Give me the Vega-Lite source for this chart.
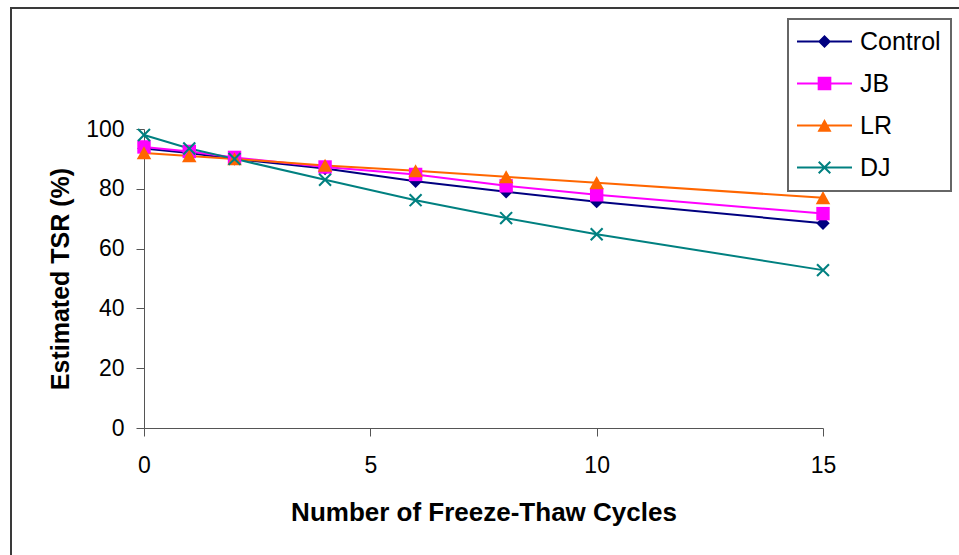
{
  "$schema": "https://vega.github.io/schema/vega-lite/v6.json",
  "width": 950,
  "height": 550,
  "autosize": {"type": "none"},
  "padding": {"left": 11, "top": 8, "right": -2, "bottom": -3},
  "background": "white",
  "config": {
    "view": {"stroke": "#3a3a3a", "strokeWidth": 2, "fill": "white"},
    "font": "Liberation Sans",
    "legend": {"strokeWidth": 2}
  },
  "data": {
    "values": [
      {"cycles": 0, "series": "Control", "tsr": 93.5},
      {"cycles": 1, "series": "Control", "tsr": 92.0},
      {"cycles": 2, "series": "Control", "tsr": 90.0},
      {"cycles": 4, "series": "Control", "tsr": 86.8},
      {"cycles": 6, "series": "Control", "tsr": 82.5},
      {"cycles": 8, "series": "Control", "tsr": 79.0},
      {"cycles": 10, "series": "Control", "tsr": 75.7},
      {"cycles": 15, "series": "Control", "tsr": 68.5},
      {"cycles": 0, "series": "JB", "tsr": 94.0},
      {"cycles": 1, "series": "JB", "tsr": 92.5},
      {"cycles": 2, "series": "JB", "tsr": 90.5},
      {"cycles": 4, "series": "JB", "tsr": 87.3},
      {"cycles": 6, "series": "JB", "tsr": 84.8},
      {"cycles": 8, "series": "JB", "tsr": 81.0},
      {"cycles": 10, "series": "JB", "tsr": 78.0},
      {"cycles": 15, "series": "JB", "tsr": 71.7},
      {"cycles": 0, "series": "LR", "tsr": 92.0},
      {"cycles": 1, "series": "LR", "tsr": 91.0},
      {"cycles": 2, "series": "LR", "tsr": 90.0},
      {"cycles": 4, "series": "LR", "tsr": 87.8},
      {"cycles": 6, "series": "LR", "tsr": 86.0},
      {"cycles": 8, "series": "LR", "tsr": 84.0},
      {"cycles": 10, "series": "LR", "tsr": 82.0},
      {"cycles": 15, "series": "LR", "tsr": 77.0},
      {"cycles": 0, "series": "DJ", "tsr": 98.0},
      {"cycles": 1, "series": "DJ", "tsr": 93.5},
      {"cycles": 2, "series": "DJ", "tsr": 90.0},
      {"cycles": 4, "series": "DJ", "tsr": 83.0},
      {"cycles": 6, "series": "DJ", "tsr": 76.2},
      {"cycles": 8, "series": "DJ", "tsr": 70.2},
      {"cycles": 10, "series": "DJ", "tsr": 64.8},
      {"cycles": 15, "series": "DJ", "tsr": 52.8}
    ]
  },
  "encoding": {
    "x": {
      "field": "cycles",
      "type": "quantitative",
      "scale": {"domain": [0, 15], "nice": false, "range": [133, 812]},
      "axis": {
        "title": "Number of Freeze-Thaw Cycles",
        "values": [0, 5, 10, 15],
        "offset": -130,
        "grid": false,
        "tickSize": 8,
        "tickColor": "#555555",
        "domainColor": "#555555",
        "labelFlush": false,
        "labelFont": "Liberation Sans",
        "labelFontSize": 23,
        "labelColor": "black",
        "labelPadding": 18,
        "titleFont": "Liberation Sans",
        "titleFontSize": 26,
        "titleFontWeight": "bold",
        "titleColor": "black",
        "titlePadding": 22
      }
    },
    "y": {
      "field": "tsr",
      "type": "quantitative",
      "scale": {"domain": [0, 100], "nice": false, "range": [420, 121]},
      "axis": {
        "title": "Estimated TSR (%)",
        "values": [0, 20, 40, 60, 80, 100],
        "offset": -133,
        "grid": false,
        "tickSize": 8,
        "tickColor": "#555555",
        "domainColor": "#555555",
        "labelFont": "Liberation Sans",
        "labelFontSize": 23,
        "labelColor": "black",
        "labelPadding": 12,
        "titleFont": "Liberation Sans",
        "titleFontSize": 25,
        "titleFontWeight": "bold",
        "titleColor": "black",
        "titlePadding": 12
      }
    }
  },
  "layer": [
    {
      "mark": {"type": "line", "strokeWidth": 2},
      "encoding": {
        "color": {
          "field": "series",
          "type": "nominal",
          "scale": {"domain": ["Control", "JB", "LR", "DJ"], "range": ["#000080", "#FF00FF", "#FF6600", "#008080"]},
          "legend": null
        }
      }
    },
    {
      "mark": {"type": "point", "filled": true, "opacity": 1, "size": 180},
      "encoding": {
        "color": {
          "field": "series",
          "type": "nominal",
          "scale": {"domain": ["Control", "JB", "LR", "DJ"], "range": ["#000080", "#FF00FF", "#FF6600", "#008080"]},
          "legend": null
        },
        "shape": {
          "field": "series",
          "type": "nominal",
          "scale": {
            "domain": ["Control", "JB", "LR", "DJ"],
            "range": [
              "M0,-1L1,0L0,1L-1,0Z",
              "M-1,-1H1V1H-1Z",
              "M0,-1L1.08,0.95L-1.08,0.95Z",
              "M-1,-0.78L-0.78,-1L0,-0.22L0.78,-1L1,-0.78L0.22,0L1,0.78L0.78,1L0,0.22L-0.78,1L-1,0.78L-0.22,0Z"
            ]
          },
          "legend": null
        }
      }
    },
    {
      "transform": [{"filter": "false"}],
      "mark": {"type": "point", "filled": true, "opacity": 1},
      "encoding": {
        "color": {
          "field": "series",
          "type": "nominal",
          "scale": {"domain": ["Control", "JB", "LR", "DJ"], "range": ["#000080", "#FF00FF", "#FF6600", "#008080"]},
          "legend": {
            "orient": "none",
            "legendX": 777,
            "legendY": 11,
            "title": null,
            "symbolSize": 169,
            "symbolOffset": 14,
            "symbolStrokeWidth": 0,
            "labelOffset": 23,
            "labelFont": "Liberation Sans",
            "labelFontSize": 25,
            "labelColor": "black",
            "padding": 10,
            "rowPadding": 16,
            "strokeColor": "#666666",
            "fillColor": "white"
          }
        },
        "shape": {
          "field": "series",
          "type": "nominal",
          "scale": {
            "domain": ["Control", "JB", "LR", "DJ"],
            "range": [
              "M-4.23,-0.15H4.23V0.15H-4.23Z M0,-1L1,0L0,1L-1,0Z",
              "M-4.23,-0.15H4.23V0.15H-4.23Z M-1.05,-1.05H1.05V1.05H-1.05Z",
              "M-4.23,-0.15H4.23V0.15H-4.23Z M0,-1L1.08,0.95L-1.08,0.95Z",
              "M-4.23,-0.15H4.23V0.15H-4.23Z M-1,-0.78L-0.78,-1L0,-0.22L0.78,-1L1,-0.78L0.22,0L1,0.78L0.78,1L0,0.22L-0.78,1L-1,0.78L-0.22,0Z"
            ]
          },
          "legend": {
            "orient": "none",
            "legendX": 777,
            "legendY": 11,
            "title": null,
            "symbolSize": 169,
            "symbolOffset": 14,
            "symbolStrokeWidth": 0,
            "labelOffset": 23,
            "labelFont": "Liberation Sans",
            "labelFontSize": 25,
            "labelColor": "black",
            "padding": 10,
            "rowPadding": 16,
            "strokeColor": "#666666",
            "fillColor": "white"
          }
        }
      }
    }
  ],
  "resolve": {"scale": {"color": "independent", "shape": "independent"}}
}
